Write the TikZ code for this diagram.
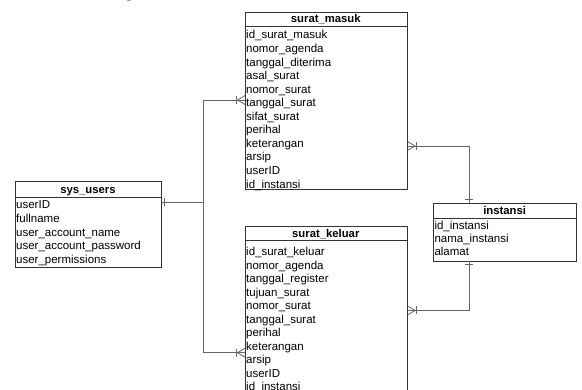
\documentclass[tikz,border=0pt]{standalone}
\usepackage{fontspec}
\setmainfont{Liberation Sans}
\newfontfamily\captionfont{Liberation Serif}
\usetikzlibrary{calc}

% ER diagram: four tables joined by crow's-foot relations
\newcommand\manyend[2]{% #1 = point on the table edge, #2 = outward angle
  \begin{scope}[shift={(#1)}, rotate=#2]
    \draw[rel] (0,-4.5) -- (7.5,0) -- (0,4.5);
    \draw[rel] (8.5,-4) -- (8.5,4);
  \end{scope}}

\begin{document}
\begin{tikzpicture}[x=1pt, y=-1pt,
  tbl/.style={draw=black!80, line width=0.8pt, fill=white, inner sep=0, anchor=north west},
  ttl/.style={font=\fontsize{11.3}{13}\selectfont\bfseries, inner sep=0, anchor=base},
  fld/.style={font=\fontsize{11.5}{13}\selectfont, inner sep=0, anchor=base west},
  rel/.style={draw=black!60, line width=0.8pt},
]
\useasboundingbox (0,0) rectangle (582,390);

% caption tail above the frame
\node[font=\captionfont\fontsize{16}{18}\selectfont, inner sep=0, anchor=base] (captail) at (129,-2.5) {g};

% ---- surat_masuk ----
\node[tbl, minimum width=161.7pt, minimum height=177pt] (masuk) at (245,12) {};
\draw[draw=black!80, line width=0.8pt] (245,26) -- (406.7,26);
\node[ttl] (masukT) at (325.8,23) {surat\_masuk};
\foreach \f [count=\i from 0] in {id\_surat\_masuk, nomor\_agenda, tanggal\_diterima, asal\_surat, nomor\_surat, tanggal\_surat, sifat\_surat, perihal, keterangan, arsip, userID, id\_instansi}
  \node[fld] (masuk-\i) at (246,39+13.55*\i) {\f};

% ---- surat_keluar ----
\node[tbl, minimum width=161.7pt, minimum height=170pt] (keluar) at (245,226) {};
\draw[draw=black!80, line width=0.8pt] (245,240.7) -- (406.7,240.7);
\node[ttl] (keluarT) at (325.8,237.6) {surat\_keluar};
\foreach \f [count=\i from 0] in {id\_surat\_keluar, nomor\_agenda, tanggal\_register, tujuan\_surat, nomor\_surat, tanggal\_surat, perihal, keterangan, arsip, userID, id\_instansi}
  \node[fld] (keluar-\i) at (246,256+13.5*\i) {\f};

% ---- sys_users ----
\node[tbl, minimum width=146pt, minimum height=85.7pt] (users) at (15,181) {};
\draw[draw=black!80, line width=0.8pt] (15,197.3) -- (161,197.3);
\node[ttl] (usersT) at (88,193.2) {sys\_users};
\foreach \f [count=\i from 0] in {userID, fullname, user\_account\_name, user\_account\_password, user\_permissions}
  \node[fld] (users-\i) at (16,208.6+13.75*\i) {\f};

% ---- instansi ----
\node[tbl, minimum width=142.7pt, minimum height=58pt] (inst) at (433.3,202.7) {};
\draw[draw=black!80, line width=0.8pt] (433.3,218.3) -- (576,218.3);
\node[ttl] (instT) at (504.6,214.5) {instansi};
\foreach \f [count=\i from 0] in {id\_instansi, nama\_instansi, alamat}
  \node[fld] (inst-\i) at (434.3,229.3+13*\i) {\f};

% ---- relations ----
\coordinate (uOut) at (users.east |- 0,202.3);
\coordinate (bus) at (203.3,202.3);
\coordinate (mIn) at (masuk.west |- 0,100);
\coordinate (kIn) at (keluar.west |- 0,352.7);
\coordinate (mOut) at (masuk.east |- 0,146);
\coordinate (kOut) at (keluar.east |- 0,310.5);
\coordinate (iTop) at (469.3,202.7);
\coordinate (iBot) at (469.3,260.7);

\draw[rel] (uOut) -- (bus) |- (mIn);
\draw[rel] (bus) |- (kIn);
\draw[rel] (iTop) |- (mOut);
\draw[rel] (iBot) |- (kOut);

% one-side bars
\draw[rel] ($(uOut)+(3,-4)$) -- ++(0,8);
\draw[rel] ($(iTop)+(-4,-3.7)$) -- ++(8,0);
\draw[rel] ($(iBot)+(-4,3.3)$) -- ++(8,0);

% many-side crow's feet
\manyend{mIn}{180}
\manyend{kIn}{180}
\manyend{mOut}{0}
\manyend{kOut}{0}
\end{tikzpicture}
\end{document}
